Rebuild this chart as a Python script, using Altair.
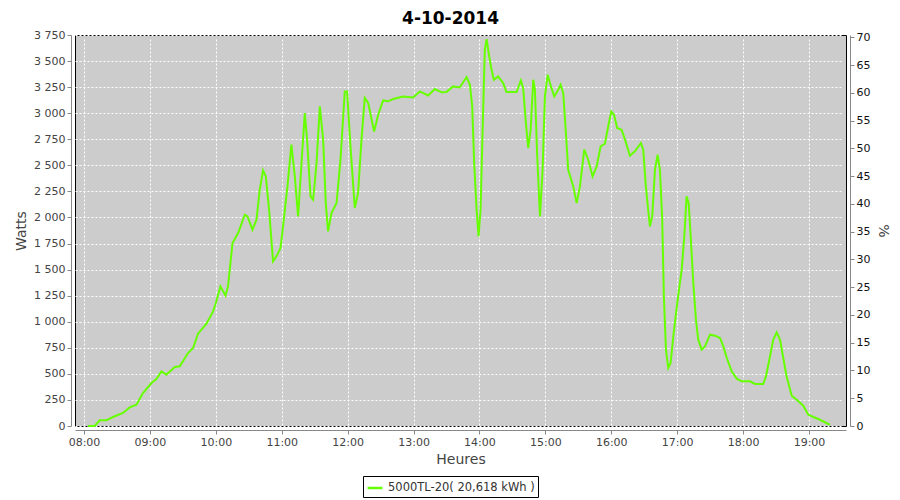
import altair as alt
import pandas as pd

# minutes after 08:00 and power in watts
minutes_after_8 = [3.6, 9.7, 14.3, 20.4, 26.4, 35.5, 41.6, 47.7, 53.7, 61.4, 65.9, 70.5, 75, 82.6, 87.2,
                   94.7, 99.3, 103.8, 111.5, 117.5, 120, 124.2, 128.8, 131.1, 135.2, 140.3, 146.4, 148.8,
                   153.4, 157, 160, 163, 165.5, 168.5, 172.1, 175.2, 178.9, 181.2, 185.2, 188.8, 191.9,
                   194.9, 198, 201, 203.1, 206.2, 208.6, 211.7, 214.7, 217.7, 220.1, 222.2, 225.3, 229.9,
                   233.5, 237.4, 239.5, 242.6, 246.5, 249.5, 252.6, 255.6, 258.7, 264.1, 267.8, 272.3,
                   276.9, 281.4, 290.5, 299.6, 305.7, 313.3, 319.4, 325.5, 330, 336, 342, 348.3, 351.3,
                   353.4, 355.2, 357.4, 359.2, 361, 362.9, 364.9, 366.5, 368.9, 371, 373.1, 377, 381.6,
                   384.6, 393.8, 397.7, 399.8, 402.3, 404.4, 406.6, 409, 410.5, 412.6, 415.1, 417.5,
                   419.6, 422.1, 425.1, 428.1, 430.8, 433.9, 436.3, 438.7, 440.8, 445.4, 448.5, 451.5,
                   455.4, 459, 463, 466.7, 470.3, 474.2, 477.2, 480, 482.5, 485.4, 489.4, 492.5, 497,
                   501.5, 507, 509.1, 511.5, 513.6, 515.2, 517.3, 519.8, 522.2, 524.3, 526.4, 527.9,
                   529.8, 531.9, 534, 536.5, 540.1, 544.1, 546.5, 548.6, 550.5, 552.3, 554.7, 557.1,
                   559.2, 562.3, 565.3, 569.9, 574.5, 579, 582, 585.2, 589.6, 594.2, 598.7, 606.3,
                   610.8, 618.4, 620.8, 624.5, 627.5, 630.6, 633.6, 636.6, 639.6, 644.3, 648.8, 654.8,
                   659.4, 664, 670, 679]
watts = [0, 0, 54, 54, 86, 125, 178, 204, 316, 412, 450, 524, 492, 566, 572,
         700, 748, 885, 981, 1099, 1180, 1339, 1250, 1339, 1755, 1851, 2026, 2010,
         1883, 1978, 2266, 2451, 2394, 2074, 1579, 1627, 1707, 1914, 2298, 2698, 2394,
         2010, 2522, 3002, 2746, 2202, 2170, 2522, 3065, 2746, 2138, 1866, 2043, 2138,
         2554, 3209, 3209, 2681, 2091, 2234, 2746, 3146, 3098, 2825, 2985, 3122,
         3114, 3136, 3161, 3150, 3209, 3170, 3232, 3200, 3203, 3257, 3247, 3347, 3273,
         3065, 2522, 2074, 1818, 2074, 2841, 3609, 3711, 3544, 3417, 3321, 3353, 3289,
         3203, 3203, 3315, 3241, 2906, 2666, 2841, 3321, 3225, 2586, 2010, 2458,
         3161, 3369, 3257, 3161, 3209, 3273, 3193, 2810, 2458, 2298, 2138, 2298,
         2650, 2554, 2394, 2490, 2681, 2707, 2873, 3017, 2985, 2858, 2841, 2746, 2592,
         2634, 2714, 2650, 2298, 2074, 1914, 2010, 2458, 2602, 2458, 1978, 1243,
         732, 556, 604, 860, 1180, 1499, 1818, 2202, 2138, 1818, 1371, 1019,
         828, 732, 764, 876, 866, 844, 764, 652, 524, 454, 428, 428,
         403, 403, 476, 667, 828, 898, 828, 652, 476, 291, 252, 195,
         108, 86, 60, 12]

series_name = "5000TL-20( 20,618 kWh )"
chart_title = "4-10-2014"
hour_ticks = list(range(8, 20))
watt_ticks = list(range(0, 3751, 250))
pct_ticks = list(range(0, 71, 5))

df = pd.DataFrame({
    "t": [480 + m for m in minutes_after_8],
    "w": watts,
    "s": [series_name] * len(watts),
})
pct_df = pd.DataFrame({"t": [480] * len(pct_ticks), "p": pct_ticks})

FONT = "DejaVu Sans"
x_scale = alt.Scale(domain=[471.8, 1173.7], nice=False, zero=False)

line = alt.Chart(df).mark_line(strokeWidth=2, interpolate="linear").encode(
    x=alt.X("t:Q", scale=x_scale,
            axis=alt.Axis(values=[h * 60 for h in hour_ticks],
                          labelExpr="(datum.value < 600 ? '0' : '') + floor(datum.value / 60) + ':00'",
                          title="Heures", grid=True, titlePadding=5)),
    y=alt.Y("w:Q", scale=alt.Scale(domain=[0, 3750], nice=False),
            axis=alt.Axis(values=watt_ticks, orient="left",
                          labelExpr="replace(format(datum.value, ',d'), ',', ' ')",
                          title="Watts", grid=True, titlePadding=5)),
    color=alt.Color("s:N", scale=alt.Scale(range=["#66ff00"]),
                    legend=alt.Legend(title=None, orient="none", legendX=288, legendY=441,
                                      strokeColor="black", fillColor="white", padding=3,
                                      symbolType="stroke", symbolStrokeWidth=2.5, symbolSize=220,
                                      labelFontSize=11.5, labelFont=FONT, labelColor="#333333",
                                      cornerRadius=0)),
)

pct = alt.Chart(pct_df).mark_point(opacity=0).encode(
    x=alt.X("t:Q", scale=x_scale),
    y=alt.Y("p:Q", scale=alt.Scale(domain=[0, 70.45], nice=False),
            axis=alt.Axis(values=pct_ticks, orient="right", title="%", grid=False,
                          labelColor="#111111", titlePadding=6)),
)

chart = alt.layer(line, pct).resolve_scale(y="independent").properties(
    width=771, height=391,
    autosize=alt.AutoSizeParams(type="none"),
    padding={"left": 67, "top": 27, "right": 46, "bottom": 74},
    background="white",
    title=alt.TitleParams(chart_title, fontSize=17, fontWeight="bold", font=FONT,
                          color="black", offset=1, dx=-10),
).configure_view(
    fill="#cccccc", stroke="black", strokeWidth=1,
).configure_axis(
    labelFont=FONT, labelFontSize=11, labelColor="#444444",
    titleFont=FONT, titleFontSize=14, titleFontWeight="normal", titleColor="#444444",
    domainColor="#888888", tickColor="#888888", tickSize=4, offset=4, labelPadding=2,
    gridColor="white", gridDash=[2, 2], gridWidth=1,
)

chart.save("out.html", embed_options={"renderer": "svg", "actions": False})
